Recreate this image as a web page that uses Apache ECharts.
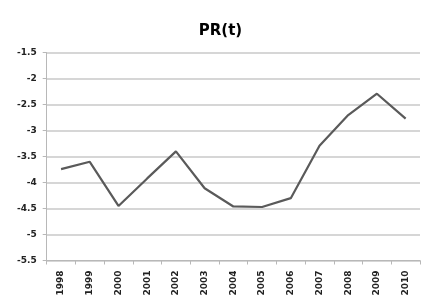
<!DOCTYPE html>
<html>
<head>
<meta charset="utf-8">
<script src="https://cdn.jsdelivr.net/npm/echarts@6/dist/echarts.min.js"></script>
<style>
  html, body { margin: 0; padding: 0; background: #fff; }
  #container { width: 441px; height: 306px; }
</style>
</head>
<body>
<div id="container"></div>
<script>
const years = ['1998', '1999', '2000', '2001', '2002', '2003', '2004',
    '2005', '2006', '2007', '2008', '2009', '2010'];
const prValues = [-3.74, -3.60, -4.45, -3.92, -3.40, -4.11, -4.46,
    -4.47, -4.30, -3.29, -2.70, -2.29, -2.77];

function draw_chart() {
    let dom = document.getElementById("container");
    let myChart = echarts.init(dom);

    let option = {
        animation: false,
        title: {
            text: 'PR(t)',
            left: 'center',
            top: 19,
            textStyle: {
                fontFamily: 'DejaVu Sans',
                fontWeight: 'bold',
                fontSize: 15,
                color: '#000'
            }
        },
        grid: {
            left: 46.7,
            right: 21,
            top: 52.7,
            bottom: 45.5
        },
        xAxis: {
            type: 'category',
            data: years,
            boundaryGap: true,
            axisLine: {lineStyle: {color: '#b8b8b8', width: 1}},
            axisTick: {show: true, length: 4, lineStyle: {color: '#b8b8b8'}},
            axisLabel: {
                rotate: 90,
                margin: 10,
                fontFamily: 'DejaVu Sans',
                fontWeight: 'bold',
                fontSize: 9,
                color: '#222'
            }
        },
        yAxis: {
            type: 'value',
            min: -5.5,
            max: -1.5,
            interval: 0.5,
            axisLine: {show: true, lineStyle: {color: '#b8b8b8', width: 1}},
            axisTick: {show: true, length: 4, lineStyle: {color: '#b8b8b8'}},
            splitLine: {lineStyle: {color: '#c8c8c8', width: 1.5}},
            axisLabel: {
                margin: 10,
                fontFamily: 'DejaVu Sans',
                fontWeight: 'bold',
                fontSize: 9,
                color: '#222'
            }
        },
        series: [
            {
                name: 'PR(t)',
                type: 'line',
                data: prValues,
                symbol: 'none',
                lineStyle: {color: '#5a5a5a', width: 2.2}
            }
        ]
    };

    myChart.setOption(option, true);
}

draw_chart();
</script>
</body>
</html>
